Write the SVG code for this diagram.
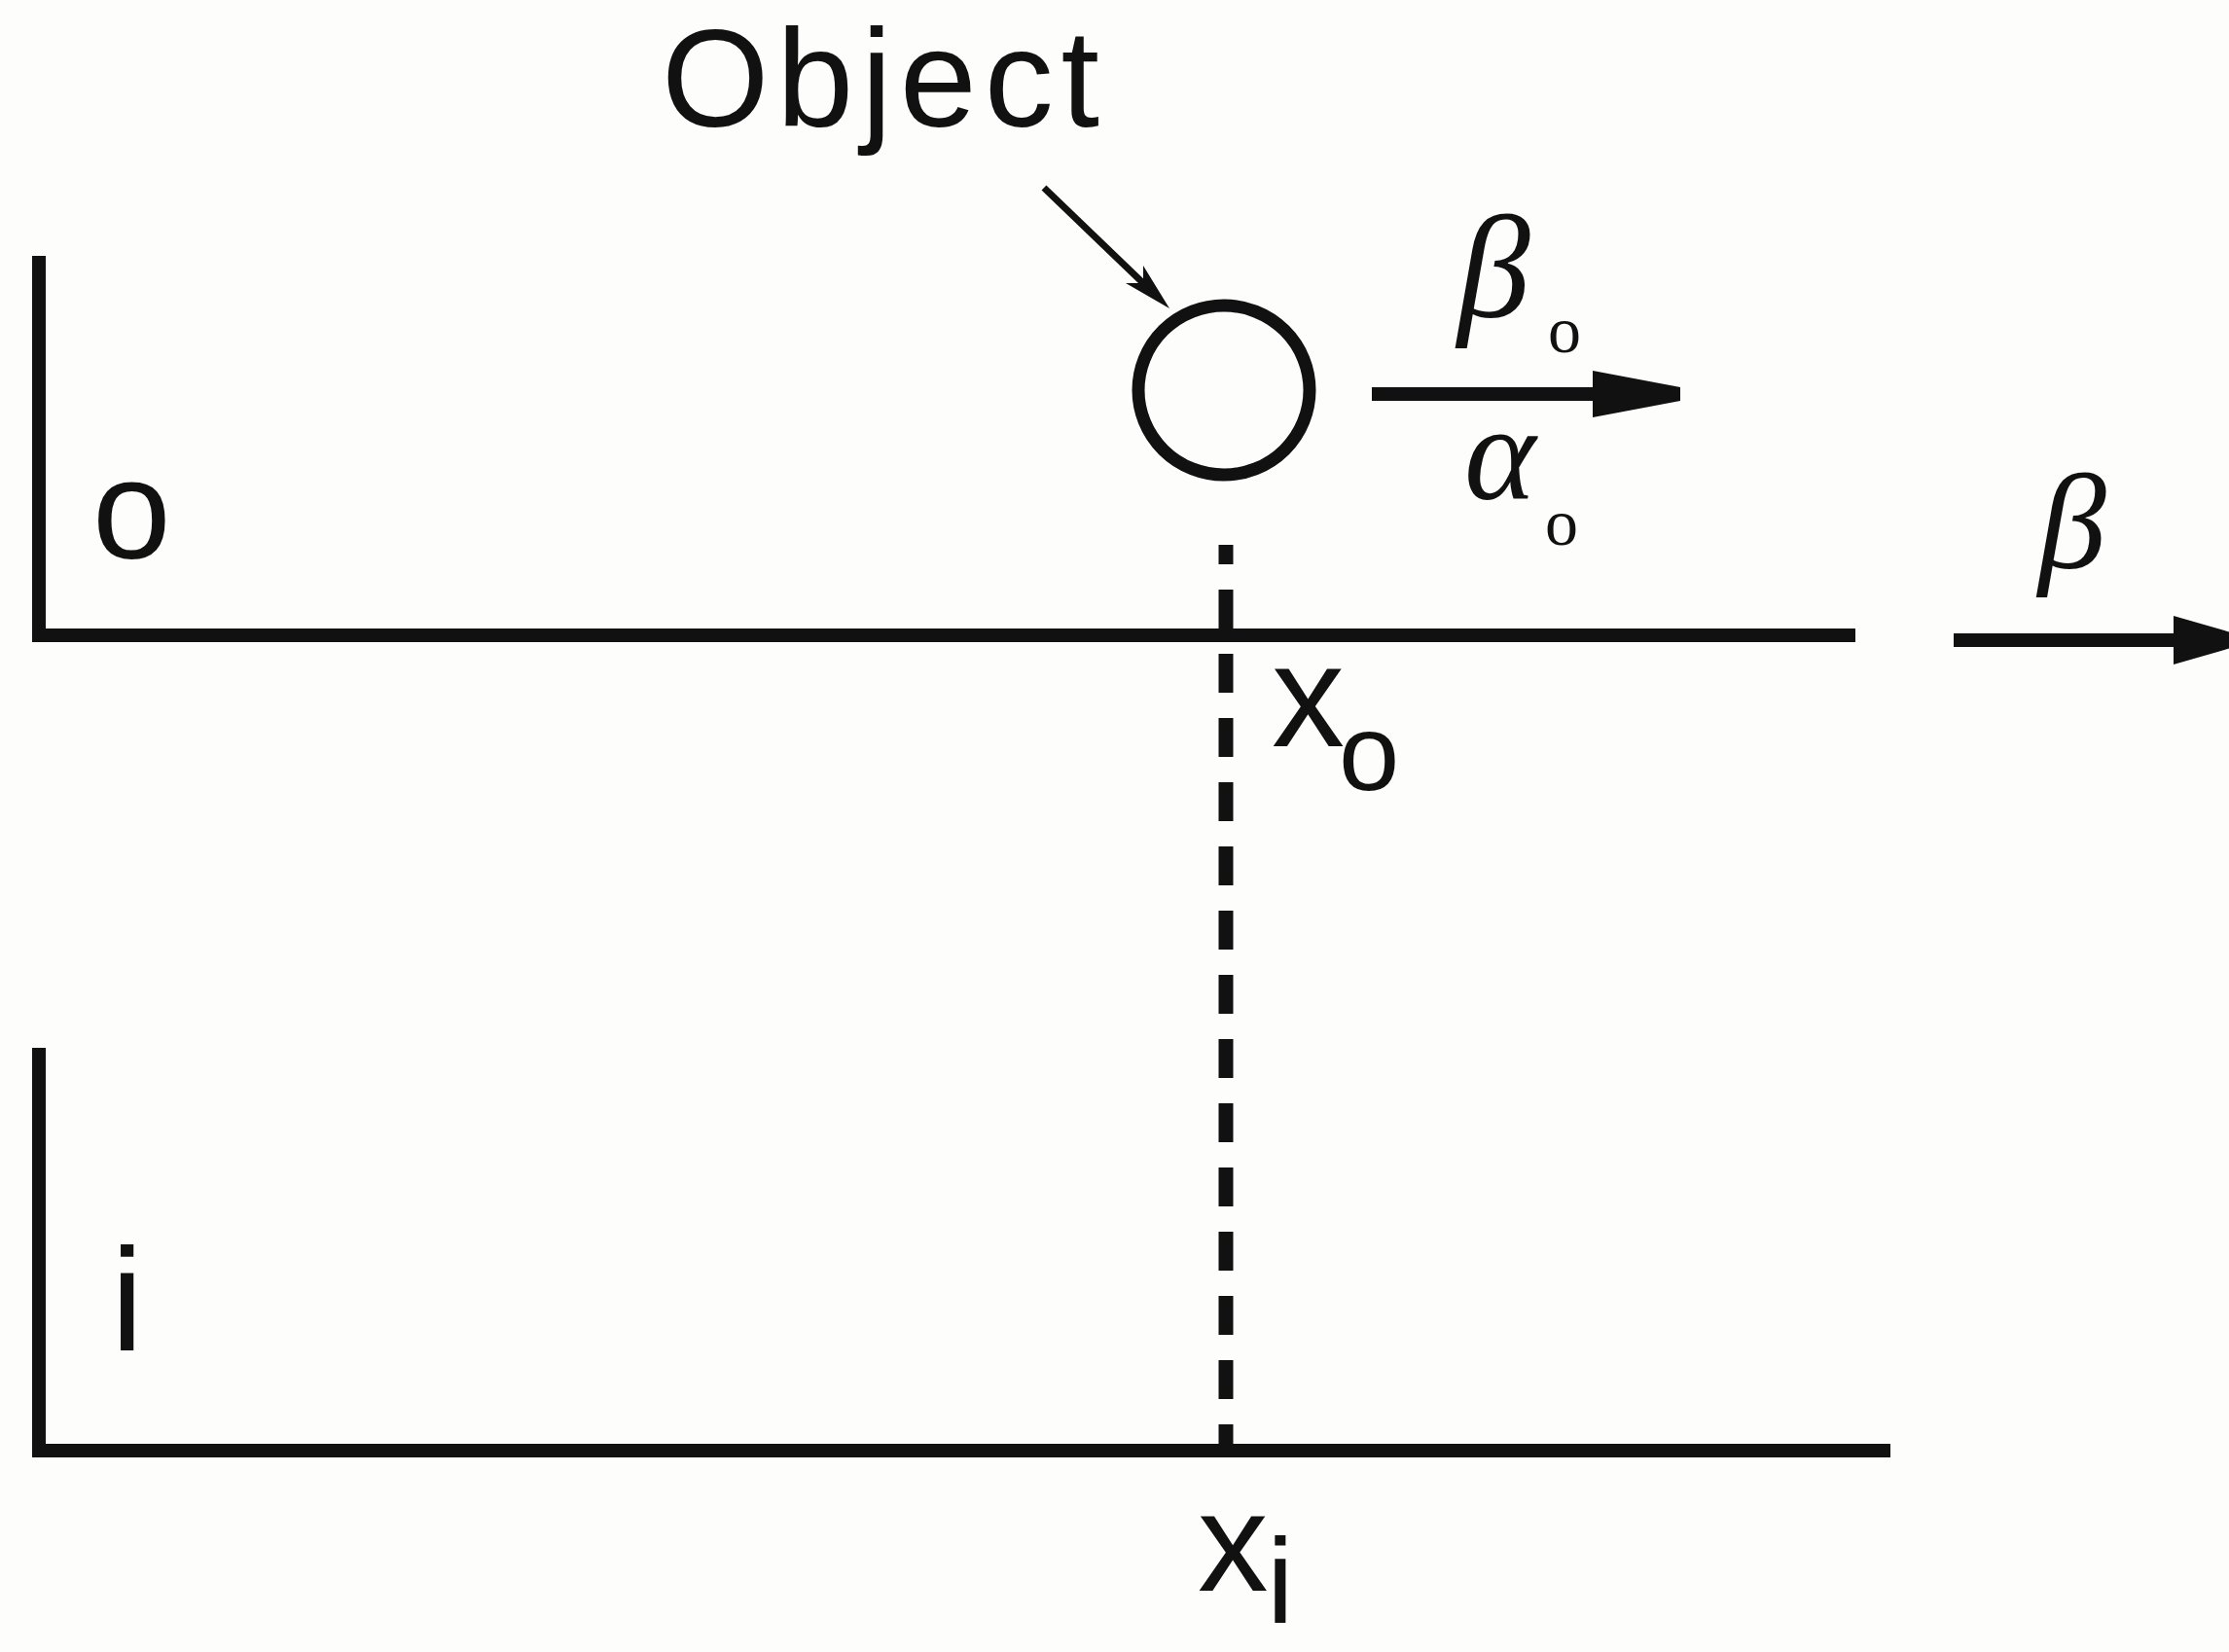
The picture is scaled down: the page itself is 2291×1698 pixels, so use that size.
<svg xmlns="http://www.w3.org/2000/svg" width="2291" height="1698" viewBox="0 0 2291 1698">
  <style>
    .ln { stroke: #111; stroke-width: 14; fill: none; stroke-linecap: butt; }
    .sans { font-family: "Liberation Sans", Arial, sans-serif; fill: #111; }
    .greek { font-family: "Liberation Serif", "Times New Roman", serif; font-style: italic; fill: #111; }
    .serif { font-family: "Liberation Serif", "Times New Roman", serif; font-style: normal; fill: #111; }
    .head { fill: #111; stroke: none; }
  </style>
  <rect x="0" y="0" width="2291" height="1698" fill="#fdfdfc"/>

  <g id="frame-o">
    <path class="ln" d="M40,263 L40,653 L1907,653"/>
    <text class="sans" x="95" y="574" font-size="145">o</text>
  </g>

  <g id="frame-i">
    <path class="ln" d="M40,1077 L40,1491 L1943,1491"/>
    <text class="sans" x="114" y="1388" font-size="150">i</text>
  </g>

  <g id="object">
    <ellipse cx="1258" cy="401" rx="88" ry="87" fill="none" stroke="#111" stroke-width="13"/>
    <text class="sans" x="680" y="130" font-size="142" textLength="450" lengthAdjust="spacing">Object</text>
  </g>

  <g id="label-xo">
    <text class="sans" x="1307" y="767" font-size="150">x<tspan x="1376" y="812" font-size="112">o</tspan></text>
  </g>

  <g id="label-xi">
    <text class="sans" x="1231" y="1635" font-size="145">x<tspan x="1302" y="1668" font-size="125">i</tspan></text>
  </g>

  <g id="label-beta-o">
    <text class="greek" x="1498" y="326" font-size="150">β<tspan class="serif" x="1591" y="362" font-size="68">o</tspan></text>
  </g>

  <g id="label-alpha-o">
    <text class="greek" x="1505" y="513" font-size="140">α<tspan class="serif" x="1588" y="560" font-size="68">o</tspan></text>
  </g>

  <g id="label-beta">
    <text class="greek" x="2095" y="584" font-size="140">β</text>
  </g>

  <g id="connectors">
    <!-- pointer from Object label to the object -->
    <line x1="1073" y1="193" x2="1176" y2="292" stroke="#111" stroke-width="7"/>
    <polygon class="head" points="1202,317 1157,291 1175,291 1175,273"/>
    <!-- object velocity arrow -->
    <line x1="1410" y1="405" x2="1645" y2="405" stroke="#111" stroke-width="14"/>
    <polygon class="head" points="1637,381 1727,398 1727,412 1637,429"/>
    <!-- frame velocity arrow -->
    <line x1="2008" y1="658" x2="2240" y2="658" stroke="#111" stroke-width="14"/>
    <polygon class="head" points="2234,633 2300,652 2300,664 2234,683"/>
    <!-- dashed projection line -->
    <line x1="1260" y1="560" x2="1260" y2="1491" stroke="#111" stroke-width="15" stroke-dasharray="40 26" stroke-dashoffset="20"/>
  </g>
</svg>
